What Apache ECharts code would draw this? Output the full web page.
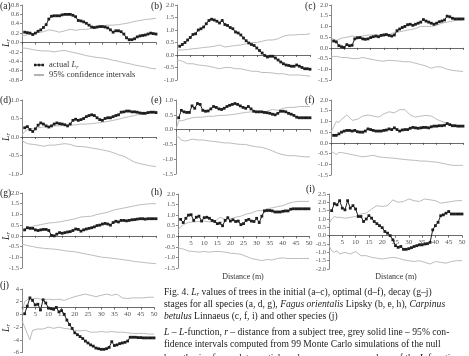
<!DOCTYPE html>
<html>
<head>
<meta charset="utf-8">
<script src="https://cdn.jsdelivr.net/npm/echarts@6/dist/echarts.min.js"></script>
<style>
  html, body { margin: 0; padding: 0; background: #fff; }
  #chart { width: 469px; height: 356px; }
</style>
</head>
<body>
<div id="chart"></div>
<script>
// distance r (m) for the actual L_r points
const rValues = [1,2,3,4,5,6,7,8,9,10,11,12,13,14,15,16,17,18,19,20,21,22,23,24,25,
  26,27,28,29,30,31,32,33,34,35,36,37,38,39,40,41,42,43,44,45,46,47,48,49,50];
// distance r for the envelope (confidence interval) lines
const ciR = [0,1,2,3,4,6,8,10,12,14,16,18,20,22,24,26,28,30,32,34,36,38,40,42,44,46,48,50];
const xTickLabels = ['5','10','15','20','25','30','35','40','45','50'];

// (a) all species, initial
const aActual = [0.22,0.21,0.2,0.17,0.2,0.24,0.27,0.32,0.38,0.5,0.56,0.57,0.57,0.57,0.59,0.6,0.6,0.6,0.58,0.55,
  0.47,0.46,0.44,0.41,0.37,0.33,0.32,0.33,0.34,0.34,0.33,0.31,0.27,0.22,0.25,0.25,0.23,0.18,0.1,0.06,
  0.06,0.08,0.12,0.14,0.15,0.16,0.18,0.2,0.19,0.18];
const aUpper = [0.15,0.15,0.17,0.18,0.19,0.21,0.23,0.27,0.25,0.22,0.25,0.28,0.26,0.28,0.28,0.3,0.32,0.35,0.37,0.37,0.38,0.4,0.42,0.45,0.47,0.49,0.5,0.52];
const aLower = [-0.12,-0.12,-0.13,-0.14,-0.15,-0.17,-0.18,-0.18,-0.2,-0.18,-0.17,-0.2,-0.22,-0.25,-0.28,-0.3,-0.32,-0.33,-0.35,-0.38,-0.4,-0.43,-0.45,-0.48,-0.5,-0.52,-0.55,-0.56];

// (b) Fagus, initial
const bActual = [0.35,0.42,0.5,0.6,0.7,0.82,0.85,1.0,1.05,1.12,1.25,1.38,1.43,1.4,1.35,1.28,1.38,1.22,1.18,1.1,
  1.05,0.92,0.88,0.8,0.68,0.57,0.48,0.42,0.38,0.28,0.18,0.08,-0.02,-0.08,-0.05,-0.05,-0.12,-0.2,-0.28,-0.35,
  -0.4,-0.42,-0.45,-0.45,-0.4,-0.45,-0.5,-0.55,-0.55,-0.57];
const bUpper = [0.2,0.2,0.2,0.21,0.22,0.25,0.27,0.3,0.32,0.35,0.4,0.32,0.35,0.38,0.4,0.45,0.5,0.5,0.55,0.6,0.6,0.65,0.75,0.8,0.8,0.82,0.82,0.85];
const bLower = [-0.2,-0.22,-0.25,-0.3,-0.35,-0.35,-0.4,-0.42,-0.45,-0.5,-0.55,-0.5,-0.5,-0.55,-0.55,-0.6,-0.65,-0.65,-0.7,-0.7,-0.72,-0.75,-0.75,-0.8,-0.8,-0.8,-0.82,-0.85];

// (c) Carpinus, initial
const cActual = [0.32,0.28,0.1,0.05,0.02,0.15,0.1,0.12,0.42,0.47,0.48,0.42,0.4,0.42,0.48,0.52,0.55,0.52,0.58,0.6,
  0.62,0.58,0.55,0.6,0.8,0.88,0.95,1.0,1.08,1.1,1.05,1.1,1.15,1.2,1.32,1.25,1.2,1.15,1.1,1.15,
  1.22,1.25,1.3,1.48,1.45,1.38,1.35,1.35,1.35,1.35];
const cUpper = [0.5,0.4,0.35,0.4,0.45,0.5,0.55,0.52,0.55,0.6,0.6,0.6,0.65,0.62,0.72,0.75,0.8,0.85,0.9,1.0,1.0,1.0,1.05,1.15,1.2,1.25,1.3,1.3];
const cLower = [-0.4,-0.4,-0.4,-0.42,-0.45,-0.45,-0.5,-0.5,-0.45,-0.5,-0.55,-0.6,-0.62,-0.58,-0.6,-0.62,-0.65,-0.65,-0.72,-0.78,-0.85,-0.95,-0.88,-0.9,-1.0,-1.05,-1.08,-1.1];

// (d) all species, optimal
const dActual = [0.25,0.28,0.2,0.15,0.22,0.32,0.38,0.35,0.3,0.27,0.3,0.35,0.38,0.36,0.35,0.33,0.3,0.35,0.45,0.48,
  0.45,0.47,0.5,0.55,0.58,0.6,0.58,0.52,0.47,0.45,0.5,0.52,0.52,0.55,0.58,0.6,0.67,0.68,0.7,0.7,
  0.68,0.68,0.67,0.65,0.64,0.64,0.66,0.67,0.67,0.66];
const dUpper = [0.05,0.15,0.2,0.22,0.22,0.25,0.27,0.28,0.3,0.3,0.32,0.32,0.33,0.35,0.35,0.36,0.38,0.4,0.42,0.45,0.48,0.52,0.55,0.58,0.62,0.65,0.68,0.7];
const dLower = [-0.1,-0.14,-0.18,-0.19,-0.2,-0.22,-0.25,-0.22,-0.22,-0.2,-0.18,-0.2,-0.25,-0.26,-0.27,-0.3,-0.32,-0.35,-0.38,-0.42,-0.48,-0.52,-0.6,-0.68,-0.72,-0.75,-0.78,-0.8];

// (e) Fagus, optimal
const eActual = [0.4,0.65,0.6,0.58,0.58,0.8,0.72,0.88,0.85,0.65,0.62,0.63,0.7,0.78,0.75,0.7,0.68,0.72,0.78,0.82,
  0.85,0.88,0.85,0.8,0.75,0.72,0.78,0.7,0.62,0.6,0.6,0.6,0.58,0.57,0.55,0.52,0.5,0.55,0.62,0.62,
  0.6,0.55,0.52,0.48,0.42,0.4,0.4,0.4,0.4,0.4];
const eUpper = [0.0,0.3,0.3,0.32,0.35,0.4,0.42,0.42,0.45,0.45,0.48,0.48,0.5,0.52,0.55,0.58,0.6,0.6,0.6,0.62,0.68,0.65,0.72,0.75,0.75,0.78,0.78,0.78];
const eLower = [-0.25,-0.25,-0.35,-0.38,-0.38,-0.32,-0.35,-0.35,-0.38,-0.4,-0.42,-0.45,-0.45,-0.48,-0.5,-0.5,-0.55,-0.58,-0.6,-0.65,-0.72,-0.8,-0.85,-0.88,-0.88,-0.9,-0.92,-0.92];

// (f) Carpinus, optimal
const fActual = [0.35,0.35,0.42,0.5,0.55,0.58,0.58,0.55,0.58,0.52,0.5,0.5,0.55,0.65,0.62,0.58,0.55,0.55,0.55,0.58,
  0.6,0.65,0.62,0.7,0.62,0.55,0.6,0.62,0.62,0.68,0.72,0.7,0.68,0.7,0.72,0.72,0.7,0.75,0.78,0.78,
  0.8,0.8,0.82,0.9,0.85,0.8,0.8,0.78,0.78,0.78];
const fUpper = [0.5,0.75,1.0,0.95,1.1,1.3,1.05,1.1,1.25,1.3,1.25,1.2,1.35,1.45,1.4,1.55,1.55,1.3,1.2,1.25,1.28,1.25,1.1,1.0,0.9,0.85,0.8,0.8];
const fLower = [-0.4,-0.45,-0.55,-0.45,-0.45,-0.5,-0.55,-0.6,-0.65,-0.62,-0.58,-0.65,-0.68,-0.7,-0.72,-0.75,-0.78,-0.8,-0.82,-0.85,-0.85,-0.88,-0.9,-0.95,-1.0,-1.05,-1.05,-1.05];

// (g) all species, decay
const gActual = [0.28,0.38,0.35,0.35,0.28,0.25,0.28,0.3,0.3,0.25,0.02,0.0,0.08,0.15,0.12,0.15,0.18,0.2,0.25,0.32,
  0.3,0.22,0.28,0.32,0.35,0.38,0.42,0.48,0.5,0.55,0.58,0.55,0.5,0.62,0.68,0.65,0.72,0.72,0.7,0.72,
  0.75,0.76,0.78,0.8,0.8,0.78,0.8,0.8,0.8,0.8];
const gUpper = [0.15,0.3,0.4,0.42,0.45,0.5,0.55,0.6,0.62,0.65,0.7,0.75,0.8,0.88,0.9,0.92,1.0,1.05,1.1,1.2,1.25,1.3,1.35,1.4,1.45,1.48,1.5,1.5];
const gLower = [-0.4,-0.42,-0.45,-0.48,-0.5,-0.55,-0.58,-0.6,-0.62,-0.65,-0.7,-0.72,-0.75,-0.8,-0.85,-0.9,-0.95,-1.0,-1.02,-1.05,-1.08,-1.12,-1.15,-1.2,-1.22,-1.25,-1.28,-1.3];

// (h) Fagus, decay
const hActual = [0.8,0.65,0.85,1.0,1.02,0.75,0.9,0.95,0.72,0.88,0.9,0.85,0.75,0.7,0.6,0.62,0.5,0.75,0.88,0.72,
  0.78,0.7,0.72,0.55,0.6,0.75,0.8,0.72,0.7,0.85,0.65,0.95,1.2,1.22,1.22,1.2,1.15,1.15,1.15,1.18,
  1.2,1.2,1.28,1.3,1.3,1.3,1.3,1.3,1.3,1.3];
const hUpper = [0.3,0.45,0.55,0.6,0.65,0.68,0.7,0.72,0.68,0.7,0.9,0.8,0.82,0.9,0.95,1.05,1.1,1.2,1.22,1.3,1.35,1.4,1.45,1.55,1.62,1.65,1.65,1.65];
const hLower = [-0.55,-0.58,-0.6,-0.65,-0.7,-0.72,-0.75,-0.72,-0.75,-0.72,-0.72,-0.75,-0.8,-0.82,-0.85,-0.95,-1.05,-1.1,-1.15,-1.1,-1.12,-1.05,-1.02,-1.05,-1.05,-1.05,-1.05,-1.05];

// (i) Carpinus, decay
const iActual = [1.5,1.92,1.85,2.1,1.65,1.55,2.1,1.65,1.8,1.6,1.15,1.15,0.85,1.0,1.2,1.05,0.85,0.72,0.6,0.48,
  0.25,0.15,0.0,-0.25,-0.6,-0.7,-0.65,-0.82,-0.82,-0.78,-0.72,-0.65,-0.6,-0.55,-0.55,-0.5,-0.48,-0.4,0.35,0.6,
  0.8,1.2,1.25,1.35,1.45,1.3,1.3,1.3,1.3,1.3];
const iUpper = [0.7,1.0,1.15,1.1,1.1,1.05,1.1,1.15,1.3,1.35,1.6,1.8,1.75,1.8,2.15,2.0,2.05,2.2,2.1,2.05,2.2,2.15,2.1,1.95,2.0,2.05,2.1,2.1];
const iLower = [-0.6,-0.9,-1.0,-0.9,-1.1,-1.0,-1.1,-0.95,-1.2,-1.2,-1.3,-1.35,-1.4,-1.35,-1.3,-1.35,-1.45,-1.5,-1.55,-1.5,-1.6,-1.7,-1.55,-1.6,-1.65,-1.55,-1.5,-1.5];

// (j) other species, decay
const jActual = [0.1,1.3,2.6,2.2,1.5,1.6,0.7,2.3,1.8,1.0,0.9,0.8,1.1,0.4,0.6,0.0,-0.9,-1.6,-2.2,-2.9,
  -3.2,-3.5,-3.8,-4.2,-4.5,-4.8,-5.0,-5.3,-5.4,-5.5,-5.5,-5.4,-5.2,-4.3,-4.9,-4.8,-4.6,-4.5,-4.4,-4.2,
  -3.6,-3.6,-3.6,-3.65,-3.65,-3.7,-3.7,-3.7,-3.7,-3.7];
const jUpper = [0.0,2.0,2.3,2.4,2.5,2.5,2.3,2.4,2.3,2.4,2.2,2.5,2.8,3.0,3.2,3.0,2.8,3.0,3.2,3.0,3.2,2.6,2.5,2.6,2.6,2.6,2.7,2.7];
const jLower = [-1.0,-2.0,-3.0,-4.0,-2.5,-2.3,-2.3,-2.0,-2.2,-2.0,-2.2,-2.3,-2.5,-2.6,-2.5,-2.8,-2.8,-2.7,-2.8,-2.7,-2.8,-2.8,-2.9,-3.0,-3.0,-3.0,-3.1,-3.1];

const serif = "'Liberation Serif', 'DejaVu Serif', serif";
const ink = '#1e1e1e';
const grey = '#b4b4b4';
const axisGrey = '#6a6a6a';

// panel layout: [left, top, width, height] in px, y range and tick step
const panels = [
  { tag: '(a)', box: [22, 5, 134, 75],   y: [-0.8, 0.8, 0.2], act: aActual, up: aUpper, lo: aLower, lab: [0, 6] },
  { tag: '(b)', box: [177, 5, 133, 75],  y: [-1, 2, 0.5],     act: bActual, up: bUpper, lo: bLower, lab: [151, 6] },
  { tag: '(c)', box: [331, 5, 132, 75],  y: [-1.5, 2, 0.5],   act: cActual, up: cUpper, lo: cLower, lab: [305, 6] },
  { tag: '(d)', box: [22, 100, 134, 74], y: [-1, 1, 0.5],     act: dActual, up: dUpper, lo: dLower, lab: [0, 100] },
  { tag: '(e)', box: [176, 100, 134, 74],y: [-1.5, 1, 0.5],   act: eActual, up: eUpper, lo: eLower, lab: [151, 100] },
  { tag: '(f)', box: [331, 100, 132, 75],y: [-1.5, 2, 0.5],   act: fActual, up: fUpper, lo: fLower, lab: [305, 100] },
  { tag: '(g)', box: [22, 193, 134, 75], y: [-1.5, 2, 0.5],   act: gActual, up: gUpper, lo: gLower, lab: [0, 193] },
  { tag: '(h)', box: [178, 194, 131, 74],y: [-1.5, 2, 0.5],   act: hActual, up: hUpper, lo: hLower, lab: [151, 192], xlab: true },
  { tag: '(i)', box: [329, 194, 133, 75],y: [-2, 2.5, 0.5],   act: iActual, up: iUpper, lo: iLower, lab: [306, 189], xlab: true },
  { tag: '(j)', box: [22, 289, 132, 75], y: [-6, 4, 2],       act: jActual, up: jUpper, lo: jLower, lab: [0, 285], xlab: true, intY: true }
];

const rich = {
  i: { fontFamily: serif, fontStyle: 'italic', fontSize: 9.5, fill: '#222', color: '#222' },
  s: { fontFamily: serif, fontStyle: 'italic', fontSize: 6.5, fill: '#222', color: '#222', padding: [4, 0, 0, 0] }
};

const grids = [], xAxes = [], yAxes = [], series = [], graphics = [];

panels.forEach((p, k) => {
  grids.push({ left: p.box[0], top: p.box[1], width: p.box[2], height: p.box[3] });
  // put the x axis (line, ticks and labels) on the zero level of the y axis
  const zeroShift = p.box[3] * (-p.y[0]) / (p.y[1] - p.y[0]);
  xAxes.push({
    type: 'value', gridIndex: k, min: 0, max: 50, interval: 5,
    position: 'bottom', offset: -zeroShift,
    axisLine: { show: true, onZero: false, lineStyle: { color: '#444', width: 0.8 } },
    axisTick: { show: true, length: 2, lineStyle: { color: '#444', width: 0.8 } },
    axisLabel: {
      show: !!p.xlab, fontFamily: serif, fontSize: 7, color: '#555', margin: 3,
      formatter: v => (v === 0 ? '' : xTickLabels[v / 5 - 1])
    },
    splitLine: { show: false }
  });
  yAxes.push({
    type: 'value', gridIndex: k, min: p.y[0], max: p.y[1], interval: p.y[2],
    axisLine: { show: true, onZero: false, lineStyle: { color: axisGrey, width: 0.8 } },
    axisTick: { show: true, length: 2, lineStyle: { color: axisGrey, width: 0.8 } },
    axisLabel: {
      fontFamily: serif, fontSize: 6.5, color: '#555', margin: 3,
      formatter: v => (p.intY ? String(Math.round(v)) : v.toFixed(1))
    },
    splitLine: { show: false }
  });
  series.push({
    name: 'ci', type: 'line', xAxisIndex: k, yAxisIndex: k, symbol: 'none', silent: true,
    lineStyle: { color: grey, width: 0.9 }, itemStyle: { color: grey },
    data: ciR.map((r, i) => [r, p.up[i]])
  });
  series.push({
    name: 'ci', type: 'line', xAxisIndex: k, yAxisIndex: k, symbol: 'none', silent: true,
    lineStyle: { color: grey, width: 0.9 }, itemStyle: { color: grey },
    data: ciR.map((r, i) => [r, p.lo[i]])
  });
  series.push({
    name: 'actual', type: 'line', xAxisIndex: k, yAxisIndex: k, symbol: 'rect', symbolSize: 2.8,
    silent: true, lineStyle: { color: ink, width: 1 }, itemStyle: { color: ink },
    data: rValues.map((r, i) => [r, p.act[i]])
  });
  graphics.push({
    type: 'text', x: p.lab[0], y: p.lab[1],
    style: { text: p.tag, fontFamily: serif, fontSize: 9.5, fill: '#222', verticalAlign: 'middle' }
  });
});

// rotated L_r y labels in left column
[43, 137, 236, 328].forEach(y => {
  graphics.push({
    type: 'text', x: 6, y: y, rotation: Math.PI / 2,
    style: { text: '{i|L}{s|r}', rich: rich, align: 'center', verticalAlign: 'middle' }
  });
});

// x axis titles
[[243, 277], [396, 277]].forEach(pt => {
  graphics.push({
    type: 'text', x: pt[0], y: pt[1],
    style: { text: 'Distance (m)', fontFamily: serif, fontSize: 8, fill: '#333', align: 'center', verticalAlign: 'middle' }
  });
});

// caption
const capRich = {
  i: { fontFamily: serif, fontStyle: 'italic', fontSize: 9.6, fill: '#222' },
  s: { fontFamily: serif, fontStyle: 'italic', fontSize: 6.5, fill: '#222', padding: [4, 0, 0, 0] }
};
const captionLines = [
  [292, 'Fig. 4. {i|L}{s|r} values of trees in the initial (a–c), optimal (d–f), decay (g–j)'],
  [304, 'stages for all species (a, d, g), {i|Fagus orientalis} Lipsky (b, e, h), {i|Carpinus}'],
  [316, '{i|betulus} Linnaeus (c, f, i) and other species (j)'],
  [332.5, '{i|L} – {i|L}-function, {i|r} – distance from a subject tree, grey solid line – 95% con-'],
  [344.5, 'fidence intervals computed from 99 Monte Carlo simulations of the null'],
  [358, 'hypothesis of complete spatial randomness; upper envelope of the {i|L}-function']
];
captionLines.forEach(c => {
  graphics.push({
    type: 'text', x: 164, y: c[0],
    style: { text: c[1], rich: capRich, fontFamily: serif, fontSize: 9.6, fill: '#222', verticalAlign: 'middle' }
  });
});

const chart = echarts.init(document.getElementById('chart'), null, { renderer: 'canvas' });
chart.setOption({
  animation: false,
  backgroundColor: '#fff',
  grid: grids,
  xAxis: xAxes,
  yAxis: yAxes,
  series: series,
  legend: {
    left: 28, top: 55, orient: 'vertical', itemWidth: 10, itemHeight: 3, itemGap: 0,
    data: [
      { name: 'actual', icon: 'path://M0,0.9h10v0.8h-10z M0,0h2.5v2.6h-2.5z M3.75,0h2.5v2.6h-2.5z M7.5,0h2.5v2.6h-2.5z' },
      { name: 'ci' }
    ],
    formatter: n => (n === 'actual' ? 'actual {i|L}{s|r}' : '95% confidence intervals'),
    textStyle: {
      fontFamily: serif, fontSize: 8.5, color: '#333', lineHeight: 10,
      rich: {
        i: { fontFamily: serif, fontStyle: 'italic', fontSize: 8.5, color: '#333' },
        s: { fontFamily: serif, fontStyle: 'italic', fontSize: 6, color: '#333', padding: [4, 0, 0, 0] }
      }
    }
  },
  graphic: graphics
});
</script>
</body>
</html>
